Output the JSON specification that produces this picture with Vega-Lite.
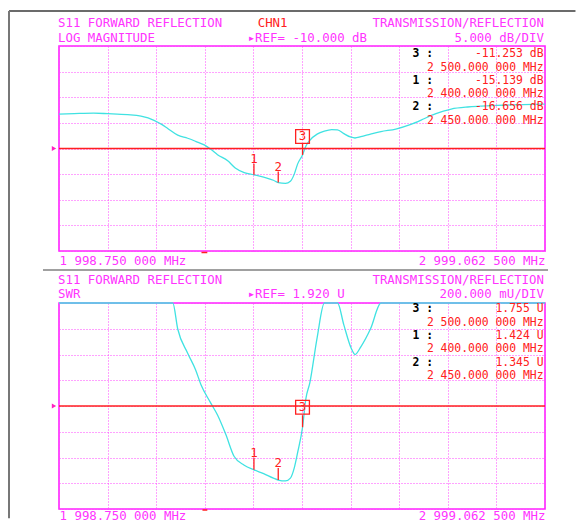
{
  "$schema": "https://vega.github.io/schema/vega-lite/v6.json",
  "padding": {"left": 7, "top": 9, "right": 0, "bottom": 0},
  "background": "white",
  "bounds": "flush",
  "spacing": 52,
  "config": {
    "view": {"stroke": "#ff22ff", "strokeWidth": 1.6},
    "font": "DejaVu Sans Mono",
    "text": {"font": "DejaVu Sans Mono", "fontSize": 12.4},
    "axis": {"title": null, "grid": true, "gridColor": "#ff44ff", "gridDash": [1, 2], "gridWidth": 1, "ticks": false, "tickSize": 0, "domain": false, "labelFont": "DejaVu Sans Mono", "labelFontSize": 12.4, "labelColor": "#ff33ff", "tickCount": 30},
    "axisX": {"labelFlush": true, "labelOverlap": false, "labelBaseline": "alphabetic", "labelExpr": "datum.value < 2000 ? '1 998.750 000 MHz' : (datum.value > 2999 ? '2 999.062 500 MHz' : '')"}
  },
  "datasets": {
    "one": [{}],
    "db": [
      {"f": 1998.75, "v": -3.3}, {"f": 2030, "v": -3.2}, {"f": 2070, "v": -3.1}, {"f": 2099, "v": -3.2},
      {"f": 2140, "v": -3.4}, {"f": 2167.5, "v": -3.7}, {"f": 2194.3, "v": -4.5}, {"f": 2210, "v": -5.3},
      {"f": 2222.5, "v": -6.1}, {"f": 2243.1, "v": -7.4}, {"f": 2263.6, "v": -8.0}, {"f": 2280, "v": -8.6},
      {"f": 2297.8, "v": -9.3}, {"f": 2312, "v": -10.2}, {"f": 2325, "v": -11.2}, {"f": 2346, "v": -12.4},
      {"f": 2361.5, "v": -13.8}, {"f": 2380, "v": -14.7}, {"f": 2400, "v": -15.14}, {"f": 2420, "v": -15.6},
      {"f": 2440, "v": -16.2}, {"f": 2450, "v": -16.66}, {"f": 2465, "v": -16.8}, {"f": 2475, "v": -16.4},
      {"f": 2483, "v": -15.0}, {"f": 2490, "v": -13.0}, {"f": 2500, "v": -11.25}, {"f": 2507, "v": -9.5},
      {"f": 2515, "v": -8.4}, {"f": 2530, "v": -7.2}, {"f": 2545, "v": -6.6}, {"f": 2560, "v": -6.3},
      {"f": 2572, "v": -6.35}, {"f": 2585, "v": -7.1}, {"f": 2600, "v": -7.8}, {"f": 2608, "v": -7.95},
      {"f": 2620, "v": -7.7}, {"f": 2640, "v": -7.2}, {"f": 2661.5, "v": -6.7}, {"f": 2692, "v": -6.2},
      {"f": 2723, "v": -5.3}, {"f": 2750, "v": -4.2}, {"f": 2764, "v": -3.6}, {"f": 2790, "v": -2.7},
      {"f": 2806, "v": -2.3}, {"f": 2840, "v": -1.9}, {"f": 2867, "v": -1.75}, {"f": 2900, "v": -1.6},
      {"f": 2930, "v": -1.5}, {"f": 2999.06, "v": -1.35}
    ],
    "swr": [
      {"f": 1998.75, "v": 5.3}, {"f": 2099, "v": 5.3}, {"f": 2167.5, "v": 4.8}, {"f": 2194.3, "v": 4.0},
      {"f": 2210, "v": 3.4}, {"f": 2222.5, "v": 2.96}, {"f": 2233, "v": 2.72}, {"f": 2243, "v": 2.52},
      {"f": 2263.6, "v": 2.33}, {"f": 2280, "v": 2.2}, {"f": 2291, "v": 2.085}, {"f": 2310, "v": 1.95},
      {"f": 2325, "v": 1.85}, {"f": 2342, "v": 1.7}, {"f": 2359, "v": 1.53}, {"f": 2380, "v": 1.46},
      {"f": 2400, "v": 1.424}, {"f": 2420, "v": 1.395}, {"f": 2440, "v": 1.36}, {"f": 2450, "v": 1.345},
      {"f": 2465, "v": 1.338}, {"f": 2475, "v": 1.36}, {"f": 2483, "v": 1.44}, {"f": 2490, "v": 1.56},
      {"f": 2500, "v": 1.755}, {"f": 2507, "v": 1.98}, {"f": 2515, "v": 2.1}, {"f": 2530, "v": 2.45},
      {"f": 2545, "v": 2.72}, {"f": 2560, "v": 2.85}, {"f": 2572, "v": 2.84}, {"f": 2585, "v": 2.55},
      {"f": 2600, "v": 2.37}, {"f": 2608, "v": 2.32}, {"f": 2620, "v": 2.38}, {"f": 2640, "v": 2.52},
      {"f": 2661.5, "v": 2.72}, {"f": 2692, "v": 2.95}, {"f": 2723, "v": 3.3}, {"f": 2750, "v": 4.2},
      {"f": 2764, "v": 4.8}, {"f": 2806, "v": 7.6}, {"f": 2867, "v": 10}, {"f": 2999.06, "v": 11}
    ],
    "mkdb": [
      {"m": "1", "f": 2400, "v": -15.139},
      {"m": "2", "f": 2450, "v": -16.656},
      {"m": "3", "f": 2500, "v": -11.253}
    ],
    "mkswr": [
      {"m": "1", "f": 2400, "v": 1.424},
      {"m": "2", "f": 2450, "v": 1.345},
      {"m": "3", "f": 2500, "v": 1.755}
    ]
  },
  "vconcat": [
    {
      "width": 486,
      "height": 205,
      "layer": [
        {
          "data": {"name": "db"},
          "mark": {"type": "line", "color": "#40e2e2", "strokeWidth": 1.3, "interpolate": "monotone"},
          "encoding": {
            "x": {"field": "f", "type": "quantitative", "scale": {"domain": [1998.75, 2999.0625], "nice": false, "zero": false},
                  "axis": {"values": [1998.75, 2098.78125, 2198.8125, 2298.84375, 2398.875, 2498.90625, 2598.9375, 2698.96875, 2799, 2899.03125, 2999.0625], "labelPadding": 13}},
            "y": {"field": "v", "type": "quantitative", "scale": {"domain": [-30, 10], "nice": false, "zero": false},
                  "axis": {"values": [-30, -25, -20, -15, -10, -5, 0, 5, 10], "tickCount": 30, "labels": false}}
          }
        },
        {"data": {"name": "one"}, "mark": {"type": "rule", "color": "#ff2020", "strokeWidth": 1.5}, "encoding": {"y": {"datum": -10}}},
        {"data": {"name": "one"}, "mark": {"type": "point", "shape": "triangle-right", "filled": true, "color": "#ff20c0", "size": 25, "xOffset": -5, "opacity": 1}, "encoding": {"x": {"datum": 1998.75}, "y": {"datum": -10}}},
        {"data": {"name": "one"}, "mark": {"type": "rule", "color": "#ff2020", "strokeWidth": 1.5, "yOffset": 1.5}, "encoding": {"x": {"datum": 2292}, "x2": {"datum": 2304}, "y": {"datum": -30}}},
        {
          "data": {"name": "mkdb"},
          "mark": {"type": "rule", "color": "#ff2020", "strokeWidth": 1.3, "y2Offset": -11},
          "encoding": {"x": {"field": "f", "type": "quantitative"}, "y": {"field": "v", "type": "quantitative"}, "y2": {"field": "v"}}
        },
        {
          "data": {"name": "mkdb"},
          "transform": [{"filter": "datum.m != '3'"}],
          "mark": {"type": "text", "color": "#ff2020", "align": "center", "baseline": "alphabetic", "dy": -12},
          "encoding": {"x": {"field": "f", "type": "quantitative"}, "y": {"field": "v", "type": "quantitative"}, "text": {"field": "m"}}
        },
        {
          "data": {"name": "mkdb"},
          "transform": [{"filter": "datum.m == '3'"}],
          "mark": {"type": "point", "shape": "square", "size": 190, "filled": false, "color": "#ff2020", "strokeWidth": 1.3, "yOffset": -18.5, "opacity": 1},
          "encoding": {"x": {"field": "f", "type": "quantitative"}, "y": {"field": "v", "type": "quantitative"}}
        },
        {
          "data": {"name": "mkdb"},
          "transform": [{"filter": "datum.m == '3'"}],
          "mark": {"type": "text", "color": "#ff2020", "align": "center", "baseline": "middle", "dy": -18.5},
          "encoding": {"x": {"field": "f", "type": "quantitative"}, "y": {"field": "v", "type": "quantitative"}, "text": {"field": "m"}}
        },
        {"data": {"name": "one"}, "mark": {"type": "text", "align": "left", "baseline": "alphabetic", "color": "#ff33ff", "dx": -1}, "encoding": {"x": {"datum": 1998.75}, "y": {"datum": 13.66}, "text": {"value": "S11 FORWARD REFLECTION"}}},
        {"data": {"name": "one"}, "mark": {"type": "text", "align": "left", "baseline": "alphabetic", "color": "#ff33ff", "dx": -1}, "encoding": {"x": {"datum": 1998.75}, "y": {"datum": 10.81}, "text": {"value": "LOG MAGNITUDE"}}},
        {"data": {"name": "one"}, "mark": {"type": "text", "align": "right", "baseline": "alphabetic", "color": "#ff33ff", "dx": -1}, "encoding": {"x": {"datum": 2999.0625}, "y": {"datum": 13.66}, "text": {"value": "TRANSMISSION/REFLECTION"}}},
        {"data": {"name": "one"}, "mark": {"type": "text", "align": "right", "baseline": "alphabetic", "color": "#ff33ff", "dx": -1}, "encoding": {"x": {"datum": 2999.0625}, "y": {"datum": 10.81}, "text": {"value": "5.000 dB/DIV"}}},
        {"data": {"name": "one"}, "mark": {"type": "text", "align": "left", "baseline": "alphabetic", "color": "#ff2020"}, "encoding": {"x": {"datum": 2407.7}, "y": {"datum": 13.66}, "text": {"value": "CHN1"}}},
        {"data": {"name": "one"}, "mark": {"type": "text", "align": "left", "baseline": "alphabetic", "color": "#ff33ff"}, "encoding": {"x": {"datum": 2387}, "y": {"datum": 10.81}, "text": {"value": "▸REF= -10.000 dB"}}},
        {"data": {"name": "one"}, "mark": {"type": "text", "align": "left", "baseline": "alphabetic", "color": "#000000", "fontWeight": "bold", "fontSize": 11.4}, "encoding": {"x": {"datum": 2726.3}, "y": {"datum": 7.805}, "text": {"value": "3 :"}}},
        {"data": {"name": "one"}, "mark": {"type": "text", "align": "left", "baseline": "alphabetic", "color": "#000000", "fontWeight": "bold", "fontSize": 11.4}, "encoding": {"x": {"datum": 2726.3}, "y": {"datum": 2.615}, "text": {"value": "1 :"}}},
        {"data": {"name": "one"}, "mark": {"type": "text", "align": "left", "baseline": "alphabetic", "color": "#000000", "fontWeight": "bold", "fontSize": 11.4}, "encoding": {"x": {"datum": 2726.3}, "y": {"datum": -2.575}, "text": {"value": "2 :"}}},
        {"data": {"name": "one"}, "mark": {"type": "text", "align": "right", "baseline": "alphabetic", "color": "#ff2020", "dx": -1.5, "fontSize": 11.4}, "encoding": {"x": {"datum": 2999.0625}, "y": {"datum": 7.805}, "text": {"value": "-11.253 dB"}}},
        {"data": {"name": "one"}, "mark": {"type": "text", "align": "right", "baseline": "alphabetic", "color": "#ff2020", "dx": -1.5, "fontSize": 11.4}, "encoding": {"x": {"datum": 2999.0625}, "y": {"datum": 5.21}, "text": {"value": "2 500.000 000 MHz"}}},
        {"data": {"name": "one"}, "mark": {"type": "text", "align": "right", "baseline": "alphabetic", "color": "#ff2020", "dx": -1.5, "fontSize": 11.4}, "encoding": {"x": {"datum": 2999.0625}, "y": {"datum": 2.615}, "text": {"value": "-15.139 dB"}}},
        {"data": {"name": "one"}, "mark": {"type": "text", "align": "right", "baseline": "alphabetic", "color": "#ff2020", "dx": -1.5, "fontSize": 11.4}, "encoding": {"x": {"datum": 2999.0625}, "y": {"datum": 0.02}, "text": {"value": "2 400.000 000 MHz"}}},
        {"data": {"name": "one"}, "mark": {"type": "text", "align": "right", "baseline": "alphabetic", "color": "#ff2020", "dx": -1.5, "fontSize": 11.4}, "encoding": {"x": {"datum": 2999.0625}, "y": {"datum": -2.575}, "text": {"value": "-16.656 dB"}}},
        {"data": {"name": "one"}, "mark": {"type": "text", "align": "right", "baseline": "alphabetic", "color": "#ff2020", "dx": -1.5, "fontSize": 11.4}, "encoding": {"x": {"datum": 2999.0625}, "y": {"datum": -5.171}, "text": {"value": "2 450.000 000 MHz"}}},
        {"data": {"name": "one"}, "mark": {"type": "text", "align": "left", "baseline": "alphabetic", "color": "#ff33ff", "dx": -1}, "encoding": {"x": {"datum": 1998.75}, "y": {"datum": -36.43}, "text": {"value": "S11 FORWARD REFLECTION"}}},
        {"data": {"name": "one"}, "mark": {"type": "text", "align": "left", "baseline": "alphabetic", "color": "#ff33ff", "dx": -1}, "encoding": {"x": {"datum": 1998.75}, "y": {"datum": -39.16}, "text": {"value": "SWR"}}},
        {"data": {"name": "one"}, "mark": {"type": "text", "align": "right", "baseline": "alphabetic", "color": "#ff33ff", "dx": -1}, "encoding": {"x": {"datum": 2999.0625}, "y": {"datum": -36.43}, "text": {"value": "TRANSMISSION/REFLECTION"}}},
        {"data": {"name": "one"}, "mark": {"type": "text", "align": "right", "baseline": "alphabetic", "color": "#ff33ff", "dx": -1}, "encoding": {"x": {"datum": 2999.0625}, "y": {"datum": -39.16}, "text": {"value": "200.000 mU/DIV"}}},
        {"data": {"name": "one"}, "mark": {"type": "text", "align": "left", "baseline": "alphabetic", "color": "#ff33ff"}, "encoding": {"x": {"datum": 2387}, "y": {"datum": -39.16}, "text": {"value": "▸REF= 1.920 U"}}},
        {"data": {"name": "one"}, "mark": {"type": "rule", "color": "#3a3a3a", "strokeWidth": 1.5}, "encoding": {"x": {"datum": 1895.84}, "x2": {"datum": 3061.8}, "y": {"datum": 16.83}}},
        {"data": {"name": "one"}, "mark": {"type": "rule", "color": "#777777", "strokeWidth": 2}, "encoding": {"x": {"datum": 1895.84}, "y": {"datum": 16.83}, "y2": {"datum": -82.14}}},
        {"data": {"name": "one"}, "mark": {"type": "rule", "color": "#a0a0a0", "strokeWidth": 2}, "encoding": {"x": {"datum": 1965.8}, "x2": {"datum": 3005.2}, "y": {"datum": -33.71}}}
      ]
    },
    {
      "width": 486,
      "height": 206,
      "layer": [
        {
          "data": {"name": "swr"},
          "mark": {"type": "line", "color": "#40e2e2", "strokeWidth": 1.3, "interpolate": "monotone"},
          "encoding": {
            "x": {"field": "f", "type": "quantitative", "scale": {"domain": [1998.75, 2999.0625], "nice": false, "zero": false},
                  "axis": {"values": [1998.75, 2098.78125, 2198.8125, 2298.84375, 2398.875, 2498.90625, 2598.9375, 2698.96875, 2799, 2899.03125, 2999.0625], "labelPadding": 10}},
            "y": {"field": "v", "type": "quantitative", "scale": {"domain": [1.12, 2.72], "nice": false, "zero": false, "clamp": true},
                  "axis": {"values": [1.12, 1.32, 1.52, 1.72, 1.92, 2.12, 2.32, 2.52, 2.72], "tickCount": 30, "labels": false}}
          }
        },
        {"data": {"name": "one"}, "mark": {"type": "rule", "color": "#ff2020", "strokeWidth": 1.5}, "encoding": {"y": {"datum": 1.92}}},
        {"data": {"name": "one"}, "mark": {"type": "point", "shape": "triangle-right", "filled": true, "color": "#ff20c0", "size": 25, "xOffset": -5, "opacity": 1}, "encoding": {"x": {"datum": 1998.75}, "y": {"datum": 1.92}}},
        {"data": {"name": "one"}, "mark": {"type": "rule", "color": "#ff2020", "strokeWidth": 1.5, "yOffset": 1}, "encoding": {"x": {"datum": 2294}, "x2": {"datum": 2304}, "y": {"datum": 1.12}}},
        {
          "data": {"name": "mkswr"},
          "mark": {"type": "rule", "color": "#ff2020", "strokeWidth": 1.3, "y2Offset": -12},
          "encoding": {"x": {"field": "f", "type": "quantitative"}, "y": {"field": "v", "type": "quantitative"}, "y2": {"field": "v"}}
        },
        {
          "data": {"name": "mkswr"},
          "transform": [{"filter": "datum.m != '3'"}],
          "mark": {"type": "text", "color": "#ff2020", "align": "center", "baseline": "alphabetic", "dy": -13},
          "encoding": {"x": {"field": "f", "type": "quantitative"}, "y": {"field": "v", "type": "quantitative"}, "text": {"field": "m"}}
        },
        {
          "data": {"name": "mkswr"},
          "transform": [{"filter": "datum.m == '3'"}],
          "mark": {"type": "point", "shape": "square", "size": 190, "filled": false, "color": "#ff2020", "strokeWidth": 1.3, "yOffset": -20, "opacity": 1},
          "encoding": {"x": {"field": "f", "type": "quantitative"}, "y": {"field": "v", "type": "quantitative"}}
        },
        {
          "data": {"name": "mkswr"},
          "transform": [{"filter": "datum.m == '3'"}],
          "mark": {"type": "text", "color": "#ff2020", "align": "center", "baseline": "middle", "dy": -20},
          "encoding": {"x": {"field": "f", "type": "quantitative"}, "y": {"field": "v", "type": "quantitative"}, "text": {"field": "m"}}
        },
        {"data": {"name": "one"}, "mark": {"type": "text", "align": "left", "baseline": "alphabetic", "color": "#000000", "fontWeight": "bold", "fontSize": 11.4}, "encoding": {"x": {"datum": 2726.3}, "y": {"datum": 2.6466}, "text": {"value": "3 :"}}},
        {"data": {"name": "one"}, "mark": {"type": "text", "align": "left", "baseline": "alphabetic", "color": "#000000", "fontWeight": "bold", "fontSize": 11.4}, "encoding": {"x": {"datum": 2726.3}, "y": {"datum": 2.44}, "text": {"value": "1 :"}}},
        {"data": {"name": "one"}, "mark": {"type": "text", "align": "left", "baseline": "alphabetic", "color": "#000000", "fontWeight": "bold", "fontSize": 11.4}, "encoding": {"x": {"datum": 2726.3}, "y": {"datum": 2.2334}, "text": {"value": "2 :"}}},
        {"data": {"name": "one"}, "mark": {"type": "text", "align": "right", "baseline": "alphabetic", "color": "#ff2020", "dx": -1.5, "fontSize": 11.4}, "encoding": {"x": {"datum": 2999.0625}, "y": {"datum": 2.6466}, "text": {"value": "1.755 U"}}},
        {"data": {"name": "one"}, "mark": {"type": "text", "align": "right", "baseline": "alphabetic", "color": "#ff2020", "dx": -1.5, "fontSize": 11.4}, "encoding": {"x": {"datum": 2999.0625}, "y": {"datum": 2.5433}, "text": {"value": "2 500.000 000 MHz"}}},
        {"data": {"name": "one"}, "mark": {"type": "text", "align": "right", "baseline": "alphabetic", "color": "#ff2020", "dx": -1.5, "fontSize": 11.4}, "encoding": {"x": {"datum": 2999.0625}, "y": {"datum": 2.44}, "text": {"value": "1.424 U"}}},
        {"data": {"name": "one"}, "mark": {"type": "text", "align": "right", "baseline": "alphabetic", "color": "#ff2020", "dx": -1.5, "fontSize": 11.4}, "encoding": {"x": {"datum": 2999.0625}, "y": {"datum": 2.3364}, "text": {"value": "2 400.000 000 MHz"}}},
        {"data": {"name": "one"}, "mark": {"type": "text", "align": "right", "baseline": "alphabetic", "color": "#ff2020", "dx": -1.5, "fontSize": 11.4}, "encoding": {"x": {"datum": 2999.0625}, "y": {"datum": 2.2334}, "text": {"value": "1.345 U"}}},
        {"data": {"name": "one"}, "mark": {"type": "text", "align": "right", "baseline": "alphabetic", "color": "#ff2020", "dx": -1.5, "fontSize": 11.4}, "encoding": {"x": {"datum": 2999.0625}, "y": {"datum": 2.1301}, "text": {"value": "2 450.000 000 MHz"}}}
      ]
    }
  ]
}
